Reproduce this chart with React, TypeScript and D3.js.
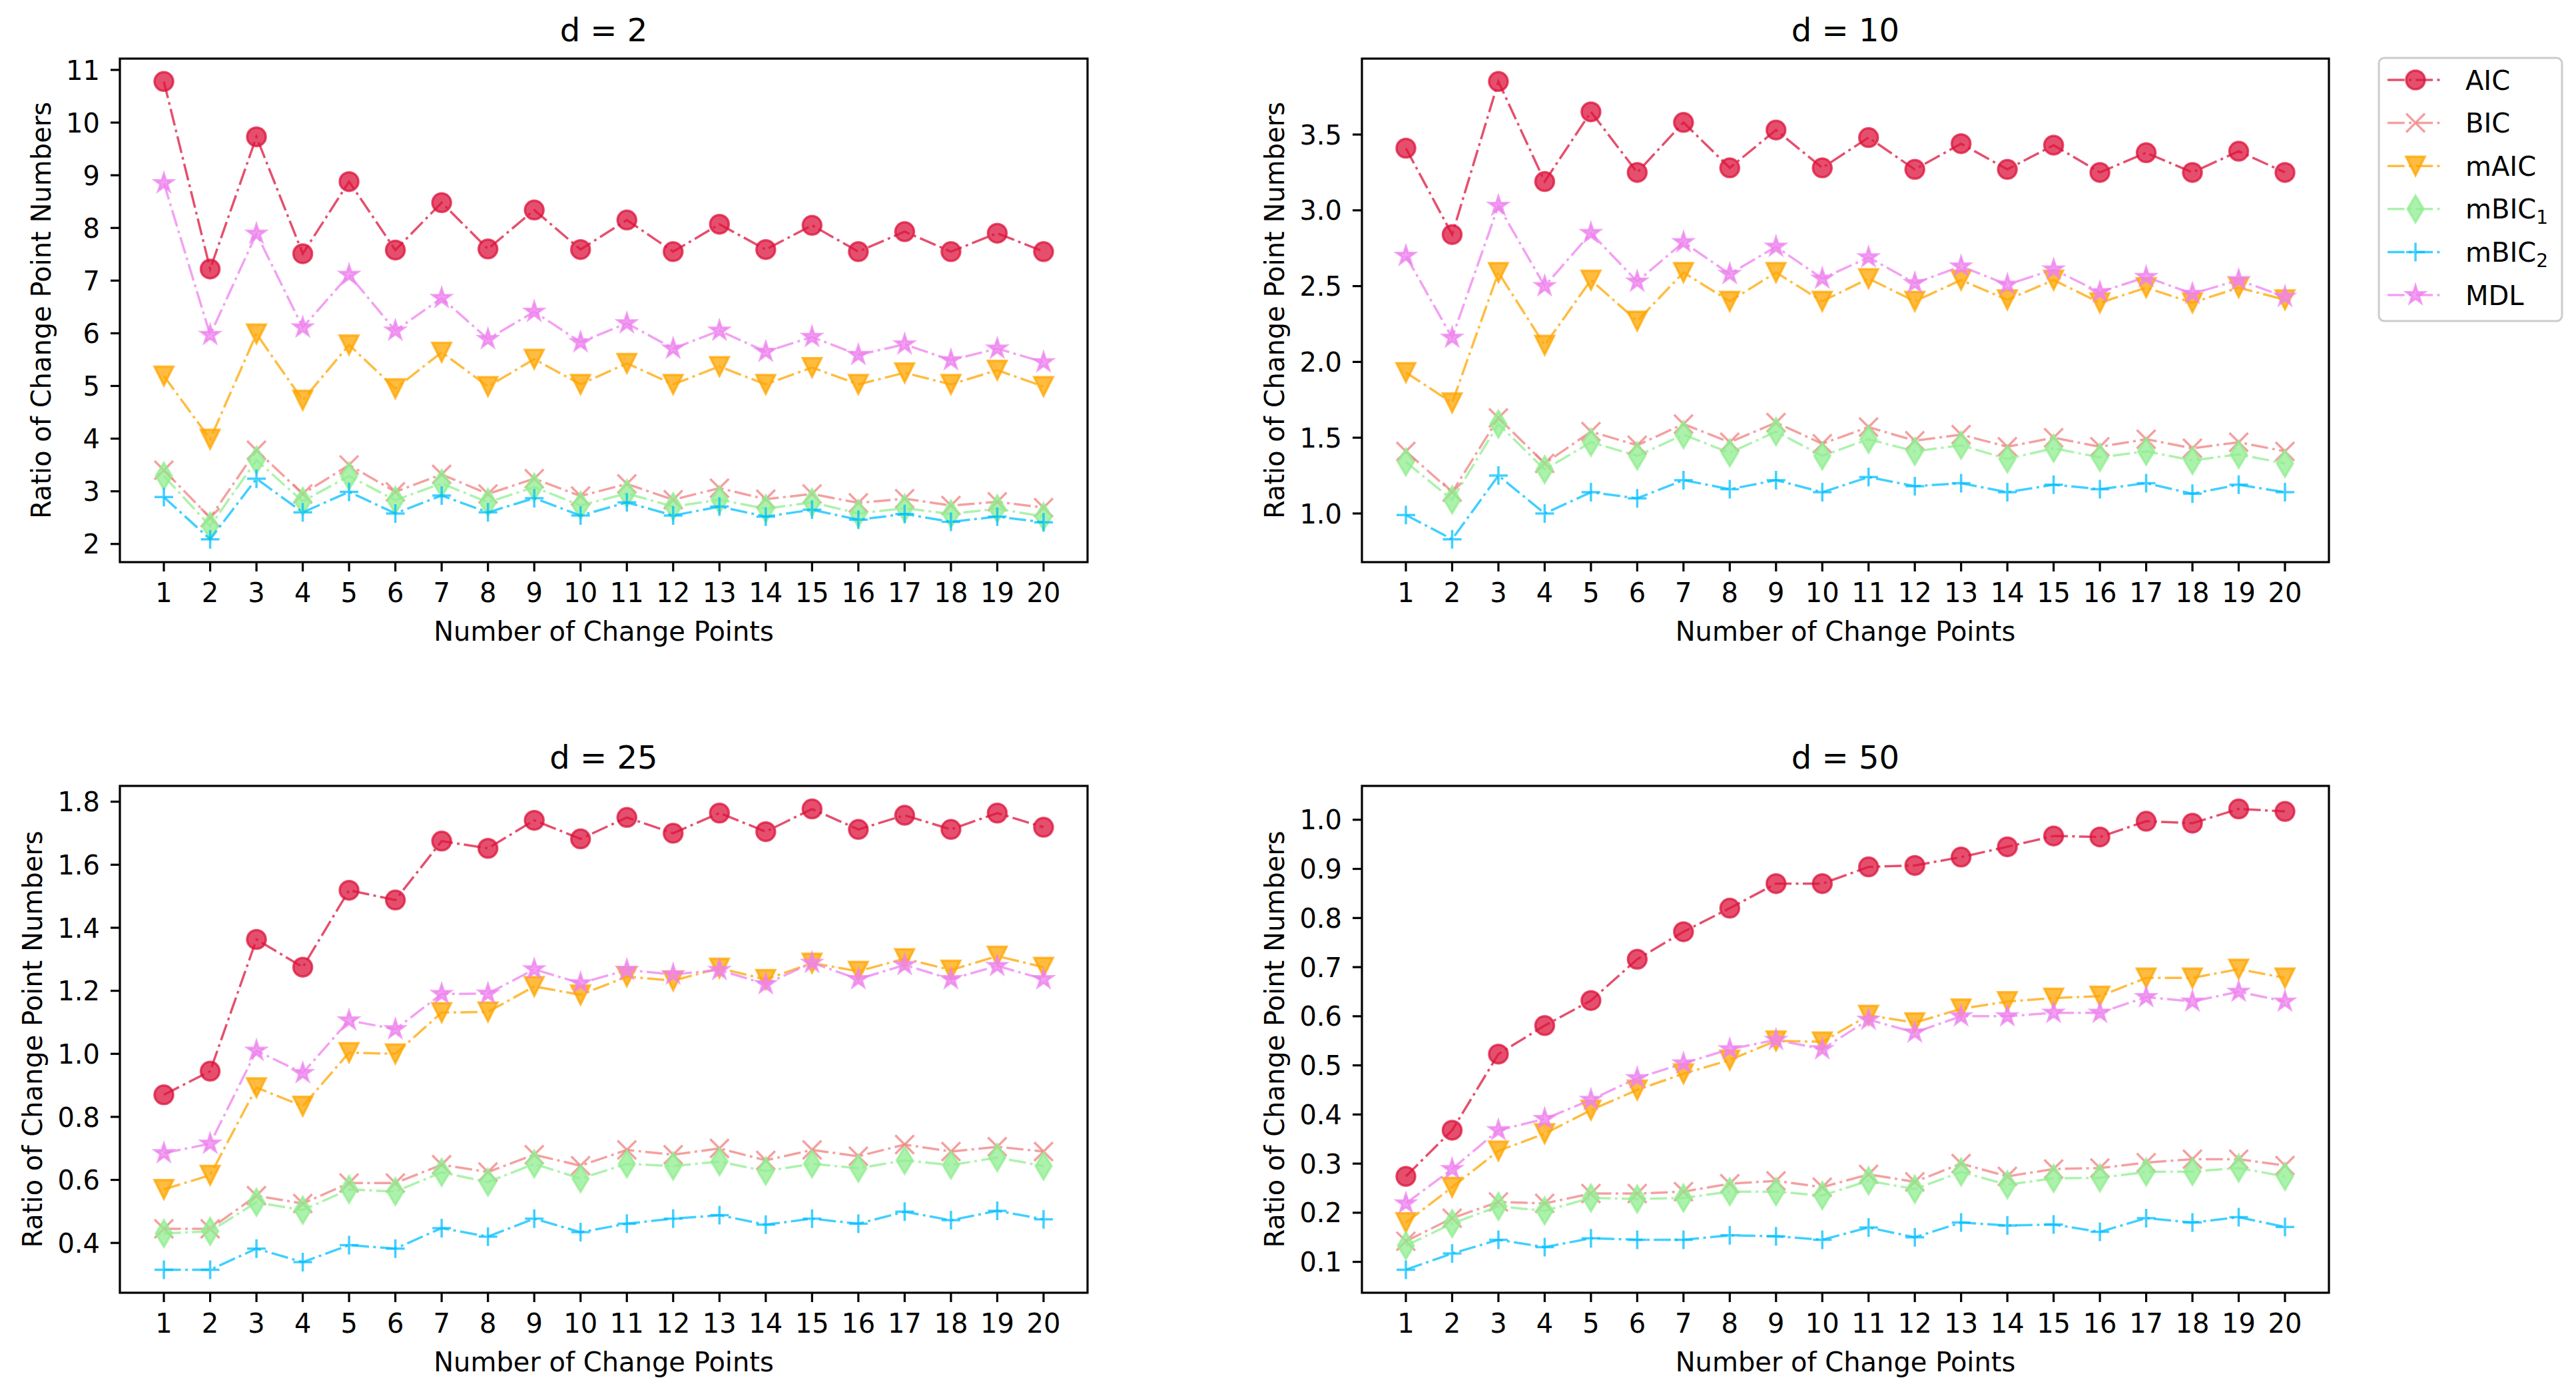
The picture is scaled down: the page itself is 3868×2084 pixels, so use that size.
import * as React from "react"
import * as d3 from "d3"

// x categories
const changePoints = [1, 2, 3, 4, 5, 6, 7, 8, 9, 10, 11, 12, 13, 14, 15, 16, 17, 18, 19, 20]
const methods = ["AIC", "BIC", "mAIC", "mBIC1", "mBIC2", "MDL"]

// d = 2
const d2AIC = [10.78, 7.22, 9.73, 7.51, 8.88, 7.58, 8.48, 7.6, 8.34, 7.59, 8.15, 7.55, 8.07, 7.59, 8.05, 7.55, 7.93, 7.55, 7.9, 7.55]
const d2BIC = [3.4, 2.5, 3.78, 2.95, 3.5, 2.99, 3.32, 2.95, 3.24, 2.91, 3.14, 2.84, 3.06, 2.85, 2.95, 2.78, 2.86, 2.73, 2.8, 2.69]
const d2mAIC = [5.19, 3.99, 5.99, 4.73, 5.78, 4.95, 5.64, 4.99, 5.51, 5.03, 5.43, 5.03, 5.37, 5.03, 5.35, 5.03, 5.25, 5.03, 5.3, 4.99]
const d2mBIC1 = [3.29, 2.34, 3.59, 2.81, 3.29, 2.83, 3.15, 2.79, 3.08, 2.73, 2.96, 2.71, 2.84, 2.67, 2.79, 2.58, 2.68, 2.57, 2.67, 2.52]
const d2mBIC2 = [2.89, 2.09, 3.24, 2.6, 2.99, 2.58, 2.92, 2.6, 2.87, 2.54, 2.79, 2.54, 2.71, 2.52, 2.65, 2.46, 2.57, 2.42, 2.52, 2.41]
const d2MDL = [8.85, 5.97, 7.89, 6.11, 7.11, 6.05, 6.67, 5.89, 6.41, 5.83, 6.19, 5.71, 6.05, 5.65, 5.93, 5.59, 5.79, 5.49, 5.71, 5.45]
const d2Ticks = [2, 3, 4, 5, 6, 7, 8, 9, 10, 11]

// d = 10
const d10AIC = [3.41, 2.84, 3.85, 3.19, 3.65, 3.25, 3.58, 3.28, 3.53, 3.28, 3.48, 3.27, 3.44, 3.27, 3.43, 3.25, 3.38, 3.25, 3.39, 3.25]
const d10BIC = [1.41, 1.14, 1.63, 1.33, 1.54, 1.45, 1.59, 1.47, 1.6, 1.46, 1.57, 1.48, 1.52, 1.44, 1.5, 1.44, 1.49, 1.43, 1.47, 1.41]
const d10mAIC = [1.93, 1.73, 2.59, 2.11, 2.54, 2.27, 2.59, 2.4, 2.59, 2.4, 2.55, 2.4, 2.54, 2.41, 2.54, 2.39, 2.49, 2.39, 2.49, 2.41]
const d10mBIC1 = [1.34, 1.09, 1.59, 1.29, 1.47, 1.38, 1.52, 1.4, 1.54, 1.38, 1.49, 1.41, 1.45, 1.36, 1.43, 1.37, 1.41, 1.35, 1.39, 1.33]
const d10mBIC2 = [0.99, 0.83, 1.25, 1.0, 1.14, 1.1, 1.22, 1.16, 1.22, 1.14, 1.24, 1.18, 1.2, 1.14, 1.19, 1.16, 1.2, 1.13, 1.19, 1.14]
const d10MDL = [2.7, 2.16, 3.03, 2.5, 2.85, 2.53, 2.79, 2.58, 2.76, 2.55, 2.69, 2.52, 2.63, 2.51, 2.61, 2.46, 2.56, 2.45, 2.54, 2.43]
const d10Ticks = [1.0, 1.5, 2.0, 2.5, 3.0, 3.5]

// d = 25
const d25AIC = [0.87, 0.945, 1.363, 1.275, 1.519, 1.488, 1.675, 1.652, 1.741, 1.682, 1.75, 1.7, 1.764, 1.705, 1.777, 1.712, 1.757, 1.712, 1.764, 1.719]
const d25BIC = [0.445, 0.445, 0.55, 0.525, 0.59, 0.59, 0.648, 0.625, 0.68, 0.645, 0.695, 0.68, 0.7, 0.662, 0.695, 0.675, 0.712, 0.69, 0.705, 0.69]
const d25mAIC = [0.57, 0.615, 0.893, 0.834, 1.004, 1.0, 1.131, 1.133, 1.214, 1.187, 1.245, 1.232, 1.272, 1.236, 1.288, 1.262, 1.302, 1.266, 1.31, 1.275]
const d25mBIC1 = [0.43, 0.437, 0.529, 0.504, 0.57, 0.563, 0.624, 0.593, 0.651, 0.604, 0.651, 0.644, 0.658, 0.628, 0.651, 0.637, 0.662, 0.647, 0.671, 0.644]
const d25mBIC2 = [0.315, 0.315, 0.382, 0.339, 0.393, 0.382, 0.447, 0.42, 0.477, 0.434, 0.461, 0.477, 0.488, 0.458, 0.477, 0.461, 0.499, 0.472, 0.502, 0.475]
const d25MDL = [0.685, 0.715, 1.01, 0.939, 1.106, 1.078, 1.19, 1.191, 1.268, 1.224, 1.266, 1.252, 1.266, 1.221, 1.289, 1.237, 1.282, 1.237, 1.279, 1.237]
const d25Ticks = [0.4, 0.6, 0.8, 1.0, 1.2, 1.4, 1.6, 1.8]

// d = 50
const d50AIC = [0.274, 0.368, 0.523, 0.581, 0.632, 0.716, 0.772, 0.82, 0.87, 0.87, 0.904, 0.907, 0.924, 0.945, 0.967, 0.965, 0.997, 0.993, 1.022, 1.017]
const d50BIC = [0.142, 0.189, 0.222, 0.219, 0.239, 0.239, 0.243, 0.259, 0.265, 0.252, 0.278, 0.263, 0.3, 0.274, 0.289, 0.291, 0.302, 0.309, 0.309, 0.296]
const d50mAIC = [0.18, 0.252, 0.326, 0.361, 0.409, 0.45, 0.483, 0.511, 0.55, 0.548, 0.602, 0.587, 0.615, 0.63, 0.637, 0.641, 0.678, 0.678, 0.696, 0.678]
const d50mBIC1 = [0.133, 0.178, 0.213, 0.204, 0.23, 0.228, 0.23, 0.243, 0.243, 0.235, 0.265, 0.248, 0.283, 0.257, 0.27, 0.271, 0.283, 0.284, 0.291, 0.274]
const d50mBIC2 = [0.084, 0.117, 0.145, 0.13, 0.148, 0.145, 0.145, 0.154, 0.152, 0.145, 0.17, 0.15, 0.18, 0.174, 0.176, 0.161, 0.189, 0.18, 0.191, 0.171]
const d50MDL = [0.219, 0.289, 0.368, 0.391, 0.43, 0.474, 0.504, 0.533, 0.552, 0.533, 0.593, 0.567, 0.6, 0.6, 0.607, 0.607, 0.639, 0.63, 0.65, 0.63]
const d50Ticks = [0.1, 0.2, 0.3, 0.4, 0.5, 0.6, 0.7, 0.8, 0.9, 1.0]

const W = 3868
const H = 2084
const FONT = "DejaVu Sans"
const ALPHA = 0.75

const colors: Record<string, string> = {
    AIC: "crimson",
    BIC: "lightcoral",
    mAIC: "orange",
    mBIC1: "lightgreen",
    mBIC2: "deepskyblue",
    MDL: "violet",
}

const panels = [
    { title: "d = 2", series: [d2AIC, d2BIC, d2mAIC, d2mBIC1, d2mBIC2, d2MDL], ticks: d2Ticks, fmt: d3.format("d"), x0: 180, x1: 1633, y0: 88, y1: 844 },
    { title: "d = 10", series: [d10AIC, d10BIC, d10mAIC, d10mBIC1, d10mBIC2, d10MDL], ticks: d10Ticks, fmt: d3.format(".1f"), x0: 2045, x1: 3497, y0: 88, y1: 844 },
    { title: "d = 25", series: [d25AIC, d25BIC, d25mAIC, d25mBIC1, d25mBIC2, d25MDL], ticks: d25Ticks, fmt: d3.format(".1f"), x0: 180, x1: 1633, y0: 1180, y1: 1941 },
    { title: "d = 50", series: [d50AIC, d50BIC, d50mAIC, d50mBIC1, d50mBIC2, d50MDL], ticks: d50Ticks, fmt: d3.format(".1f"), x0: 2045, x1: 3497, y0: 1180, y1: 1941 },
]

// matplotlib-like marker shapes, markersize 7pt ~ 28px
const R = 14
function starPath(r: number) {
    const inner = r * 0.381966
    const pts: string[] = []
    for (let i = 0; i < 10; i++) {
        const rr = i % 2 === 0 ? r : inner
        const a = -Math.PI / 2 + (i * Math.PI) / 5
        pts.push(`${(rr * Math.cos(a)).toFixed(2)},${(rr * Math.sin(a)).toFixed(2)}`)
    }
    return "M" + pts.join("L") + "Z"
}
const markerPaths: Record<string, string> = {
    BIC: `M${-R},${-R}L${R},${R}M${-R},${R}L${R},${-R}`,
    mAIC: `M0,${R}L${-R},${-R}L${R},${-R}Z`,
    mBIC1: `M0,${-R * 1.414}L${R * 0.6 * 1.414},0L0,${R * 1.414}L${-R * 0.6 * 1.414},0Z`,
    mBIC2: `M${-R},0L${R},0M0,${-R}L0,${R}`,
    MDL: starPath(R),
}

function Marker({ m, x, y }: { m: string; x: number; y: number }) {
    const c = colors[m]
    if (m === "AIC") {
        return <circle cx={x} cy={y} r={R} fill={c} fillOpacity={ALPHA} stroke={c} strokeOpacity={ALPHA} strokeWidth={3.5} />
    }
    const open = m === "BIC" || m === "mBIC2"
    return (
        <path
            d={markerPaths[m]}
            transform={`translate(${x},${y})`}
            fill={open ? "none" : c}
            fillOpacity={ALPHA}
            stroke={c}
            strokeOpacity={ALPHA}
            strokeWidth={3.5}
        />
    )
}

const DASH = "25.6 6.4 4 6.4"

function Panel({ p }: { p: typeof panels[number] }) {
    const x = d3.scaleLinear().domain([0.05, 20.95]).range([p.x0, p.x1])
    const all = p.series.flat()
    const lo = d3.min(all)!
    const hi = d3.max(all)!
    const pad = (hi - lo) * 0.05
    const y = d3.scaleLinear().domain([lo - pad, hi + pad]).range([p.y1, p.y0])
    const line = d3.line<number>().x((_, i) => x(changePoints[i])).y(d => y(d))
    const cy = (p.y0 + p.y1) / 2
    const labelW = d3.max(p.ticks.map(t => p.fmt(t).length))! * 0.636 * 40 - (p.fmt(p.ticks[0]).includes(".") ? 0.318 * 40 : 0)
    const ylabX = p.x0 - 28 - labelW - 25
    return (
        <g>
            {p.series.map((s, k) => (
                <g key={methods[k]}>
                    <path d={line(s)!} fill="none" stroke={colors[methods[k]]} strokeOpacity={ALPHA} strokeWidth={3.5} strokeDasharray={DASH} />
                    {s.map((v, i) => (
                        <Marker key={i} m={methods[k]} x={x(changePoints[i])} y={y(v)} />
                    ))}
                </g>
            ))}
            <rect x={p.x0} y={p.y0} width={p.x1 - p.x0} height={p.y1 - p.y0} fill="none" stroke="#000" strokeWidth={3.2} />
            {changePoints.map(c => (
                <g key={c}>
                    <line x1={x(c)} x2={x(c)} y1={p.y1} y2={p.y1 + 14} stroke="#000" strokeWidth={3.2} />
                    <text x={x(c)} y={p.y1 + 60} textAnchor="middle" fontSize={40} fontFamily={FONT} fill="#000">{c}</text>
                </g>
            ))}
            {p.ticks.map(t => (
                <g key={t}>
                    <line x1={p.x0 - 14} x2={p.x0} y1={y(t)} y2={y(t)} stroke="#000" strokeWidth={3.2} />
                    <text x={p.x0 - 30} y={y(t) + 14.6} textAnchor="end" fontSize={40} fontFamily={FONT} fill="#000">{p.fmt(t)}</text>
                </g>
            ))}
            <text x={(p.x0 + p.x1) / 2} y={p.y0 - 26} textAnchor="middle" fontSize={48} fontFamily={FONT} fill="#000">{p.title}</text>
            <text x={(p.x0 + p.x1) / 2} y={p.y1 + 118} textAnchor="middle" fontSize={40} fontFamily={FONT} fill="#000">Number of Change Points</text>
            <text transform={`translate(${ylabX},${cy}) rotate(-90)`} textAnchor="middle" fontSize={40} fontFamily={FONT} fill="#000">Ratio of Change Point Numbers</text>
        </g>
    )
}

function Legend() {
    const lx = 3572
    const ly = 87
    const rowY = (i: number) => 120 + i * 64.6
    return (
        <g>
            <rect x={lx} y={ly} width={275} height={395} rx={8} fill="#fff" fillOpacity={0.8} stroke="#cccccc" strokeWidth={3} />
            {methods.map((m, i) => (
                <g key={m}>
                    <line x1={3585} x2={3667} y1={rowY(i)} y2={rowY(i)} stroke={colors[m]} strokeOpacity={ALPHA} strokeWidth={3.5} strokeDasharray={DASH} />
                    <Marker m={m} x={3627} y={rowY(i)} />
                    <text x={3702} y={rowY(i) + 14.6} fontSize={40} fontFamily={FONT} fill="#000">
                        {m.startsWith("mBIC") ? (
                            <>
                                mBIC<tspan fontSize={28} dy={8}>{m.slice(4)}</tspan>
                            </>
                        ) : m}
                    </text>
                </g>
            ))}
        </g>
    )
}

export default function App() {
    return (
        <svg width={W} height={H} viewBox={`0 0 ${W} ${H}`} style={{ position: "absolute", left: 0, top: 0, background: "#fff" }}>
            <rect width={W} height={H} fill="#fff" />
            {panels.map(p => (
                <Panel key={p.title} p={p} />
            ))}
            <Legend />
        </svg>
    )
}
